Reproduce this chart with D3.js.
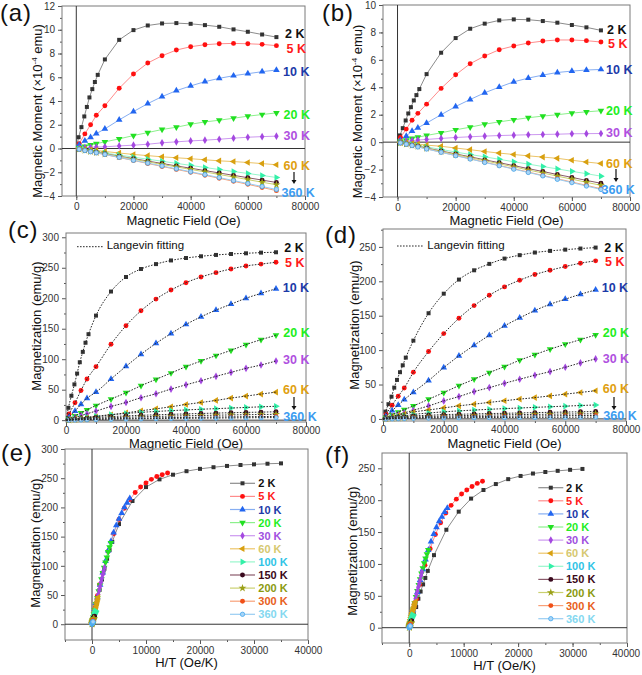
<!DOCTYPE html>
<html><head><meta charset="utf-8">
<script src="https://cdn.jsdelivr.net/npm/d3@7"></script>
<style>
body{margin:0;background:#fff}
svg{display:block}
text{font-family:Arial,"Liberation Sans",sans-serif}
</style>
</head><body>
<svg id="chart" width="642" height="675"></svg>
<script>
// ---------------- DATA ----------------
const tempLabels = ["2 K","5 K","10 K","20 K","30 K","60 K","100 K","150 K","200 K","300 K","360 K"];
// temperatures used for the H/T scaling of each sample
const tempScaleE = [2,5,10,20,30,60,100,150,200,300,360];
const tempScaleF = [2.2,5.2,10,20,30,60,100,150,200,300,360];
// 2 K was measured on a finer low-field grid
const fieldFine = [800,1800,2800,3700,4600,5600,6500,7500,10000,15000,20000,25000,30000,35000,40000,45000,50000,55000,60000,65000,70000];
const fieldStd  = [1000,3000,5000,7000,10000,15000,20000,25000,30000,35000,40000,45000,50000,55000,60000,65000,70000];

// (a) magnetic moment, 1e-4 emu
const momentA = [
 [0.95,1.8,2.7,3.5,4.3,5.0,5.6,6.2,7.5,9.15,9.97,10.36,10.53,10.56,10.5,10.39,10.25,10.03,9.83,9.6,9.38],
 [0.4,1.23,2.0,2.8,3.6,5.07,6.27,7.2,7.81,8.29,8.57,8.74,8.82,8.85,8.82,8.77,8.66],
 [0.3,0.65,0.95,1.25,1.65,2.41,3.11,3.78,4.37,4.87,5.27,5.63,5.91,6.13,6.3,6.47,6.61],
 [0.06,0.18,0.3,0.41,0.56,0.81,1.09,1.34,1.6,1.79,2.04,2.24,2.38,2.55,2.72,2.86,3.0],
 [0.03,0.07,0.1,0.12,0.14,0.22,0.28,0.36,0.48,0.56,0.64,0.7,0.78,0.87,0.95,1.0,1.04],
 [-0.02,-0.07,-0.11,-0.16,-0.25,-0.38,-0.5,-0.6,-0.7,-0.78,-0.86,-0.95,-1.04,-1.1,-1.18,-1.27,-1.37],
 [-0.04,-0.12,-0.2,-0.27,-0.38,-0.55,-0.73,-0.9,-1.07,-1.25,-1.42,-1.6,-1.77,-1.94,-2.1,-2.27,-2.44],
 [-0.05,-0.15,-0.24,-0.32,-0.44,-0.65,-0.85,-1.06,-1.26,-1.47,-1.66,-1.86,-2.06,-2.26,-2.46,-2.66,-2.86],
 [-0.05,-0.16,-0.25,-0.34,-0.46,-0.68,-0.9,-1.12,-1.34,-1.55,-1.76,-1.97,-2.19,-2.4,-2.62,-2.84,-3.05],
 [-0.06,-0.17,-0.27,-0.37,-0.51,-0.76,-1.01,-1.26,-1.51,-1.76,-2.0,-2.25,-2.51,-2.76,-3.02,-3.28,-3.55],
 [-0.06,-0.17,-0.27,-0.36,-0.5,-0.74,-0.99,-1.23,-1.47,-1.71,-1.96,-2.2,-2.45,-2.7,-2.95,-3.2,-3.45]
];
// (b) magnetic moment, 1e-4 emu
const momentB = [
 [0.49,1.02,1.58,2.09,2.55,3.04,3.43,3.87,4.96,6.52,7.59,8.27,8.64,8.88,8.95,8.93,8.83,8.71,8.54,8.37,8.15],
 [0.35,0.95,1.6,2.1,2.77,3.92,4.91,5.72,6.28,6.74,7.01,7.23,7.37,7.45,7.45,7.4,7.3],
 [0.15,0.45,0.8,1.05,1.39,2.0,2.6,3.11,3.6,4.01,4.4,4.67,4.89,5.08,5.18,5.26,5.3],
 [0.05,0.15,0.27,0.36,0.49,0.68,0.9,1.09,1.31,1.48,1.63,1.78,1.9,2.0,2.12,2.21,2.29],
 [0.02,0.07,0.11,0.15,0.2,0.27,0.34,0.39,0.44,0.48,0.51,0.54,0.56,0.58,0.61,0.62,0.63],
 [-0.02,-0.06,-0.1,-0.14,-0.22,-0.3,-0.43,-0.55,-0.68,-0.8,-0.9,-1.0,-1.09,-1.18,-1.32,-1.45,-1.56],
 [-0.04,-0.11,-0.18,-0.25,-0.35,-0.53,-0.72,-0.9,-1.07,-1.25,-1.43,-1.6,-1.78,-1.95,-2.13,-2.3,-2.48],
 [-0.04,-0.13,-0.22,-0.3,-0.43,-0.64,-0.86,-1.07,-1.29,-1.5,-1.71,-1.93,-2.14,-2.36,-2.57,-2.79,-3.0],
 [-0.05,-0.14,-0.23,-0.31,-0.45,-0.68,-0.9,-1.13,-1.35,-1.58,-1.8,-2.03,-2.25,-2.48,-2.7,-2.93,-3.15],
 [-0.05,-0.15,-0.24,-0.34,-0.49,-0.73,-0.97,-1.21,-1.46,-1.7,-1.94,-2.18,-2.43,-2.67,-2.91,-3.15,-3.4],
 [-0.05,-0.15,-0.25,-0.35,-0.5,-0.74,-0.99,-1.23,-1.48,-1.72,-1.97,-2.21,-2.46,-2.71,-2.95,-3.2,-3.45]
];
// (c) magnetization, emu/g
const magnetC = [
 [20.3,40,58.7,76.5,95,112,127,141,171.5,211,234.8,248,256,262,266,268.8,271,272.6,273.7,274.8,275.4],
 [10,28.5,48.8,67.5,87.8,124.5,155,179.4,198.6,213.4,225.5,234.8,242,248,253,256,259],
 [5,15,26,36,46,67.5,88.3,108,126,142,157,169.5,180.5,190.3,200,208,215.6],
 [2.5,7,12,17,24,34.6,45,56.5,67,77.3,87.8,97,106,114.6,124,132,139.3],
 [1.5,4.5,7.5,10.5,15,22.5,29,36.8,43.3,51,58,64.7,71.9,78.4,85,90.5,97],
 [0.6,1.7,2.8,3.9,5.5,8.8,12,15.4,18.6,22,25.8,29,32.4,36.2,39.5,42.8,46],
 [0.8,2.2,3.5,4.8,6.5,9,11,12.8,14.3,15.6,16.8,17.9,18.9,19.9,20.9,21.9,22.8],
 [0.5,1.4,2.3,3.1,4.3,5.8,7,8,8.8,9.6,10.3,11,11.6,12.2,12.7,13.2,13.7],
 [0.3,1,1.6,2.2,3,4,4.8,5.5,6.1,6.7,7.2,7.7,8.2,8.6,9,9.3,9.6],
 [0.2,0.6,1,1.4,1.9,2.5,3,3.4,3.8,4.2,4.5,4.8,5.1,5.4,5.7,5.9,6.1],
 [0.1,0.4,0.6,0.9,1.2,1.6,2,2.3,2.6,2.9,3.1,3.3,3.5,3.7,3.9,4.1,4.2]
];
// (d) magnetization, emu/g
const magnetD = [
 [10.6,21.4,32.4,45.5,56.7,67.9,78,89.1,113.8,153.6,182,202.5,216,225.3,233,238,241.8,244.2,246,247.6,249],
 [7,20,33,45,67.8,97.9,124,146.3,164.7,179.7,191.9,201.6,209.8,216,221.4,226.3,229.7],
 [4,12,20,28,38.8,55.7,74.6,91.6,107,121.6,135.2,146.8,157.5,166.7,174,181.2,187.5],
 [2,6,10,13.5,18.9,28.6,38.3,48.4,57.7,67.3,76.1,85.3,93.5,101.3,108.5,115.3,122],
 [1.3,3.8,6.3,8.8,12.6,18.9,26.2,32.5,39.7,45.5,51.8,57.7,63.5,68.8,75.1,81.4,87.2],
 [1,3,5,7,10,13,16,19,21.5,24,26.5,28.8,31,33.5,36,38.5,41],
 [0.7,2,3.2,4.4,6.5,8.6,10.3,11.7,12.9,14,15,15.9,16.8,17.7,18.6,19.5,20.3],
 [0.4,1.2,2,2.8,4.4,5.3,6.3,6.8,7.3,7.8,8.2,8.7,9.2,9.6,10,10.4,10.7],
 [0.3,0.8,1.4,1.9,2.8,3.6,4.2,4.7,5.2,5.6,6,6.3,6.6,6.9,7.1,7.3,7.5],
 [0.2,0.5,0.9,1.2,1.7,2.2,2.7,3,3.3,3.6,3.9,4.1,4.3,4.5,4.7,4.9,5],
 [0.1,0.3,0.5,0.7,1,1.3,1.5,1.7,1.9,2,2.1,2.2,2.3,2.4,2.5,2.6,2.7]
];
// axis ticks
const ticksA_y = [-4,-2,0,2,4,6,8,10,12];
const ticksB_y = [-4,-2,0,2,4,6,8,10];
const ticksC_y = [0,50,100,150,200,250,300];
const ticksD_y = [0,50,100,150,200,250];
const ticksField = [0,20000,40000,60000,80000];
const ticksHT = [0,10000,20000,30000,40000];

// ---------------- STYLES ----------------
const markerColor = ["#333333","#ff1010","#2266f0","#22e022","#a448e0","#d8a010","#33f0a8","#3a0a1e","#9aa018","#f05018","#44a8f0"];
const lineColor   = ["#8c8c8c","#ff8c8c","#86aef2","#8cf08c","#cc98f0","#ecc468","#98f6cc","#8a5a6a","#cad070","#f8a078","#98ccf2"];
const legendColor = ["#111111","#ff1a1a","#1c3aa8","#22ee22","#a050e0","#d6c870","#30c4e6","#3a0818","#8a9a10","#e86020","#84d8f0"];
const sideColor   = {"2 K":"#111111","5 K":"#ff1a1a","10 K":"#1c3aa8","20 K":"#22ee22","30 K":"#b050e0","60 K":"#e0a010","360 K":"#3c9cf0"};
const shapeOf = ["square","circle","up","down","diamond","left","right","circle","star","circle","ring"];

const svg = d3.select("#chart");
const SVG_W = 642;
const fieldOf = i => i === 0 ? fieldFine : fieldStd;

function symbolPath(shape){
  const size = {square:16, circle:19, ring:15, up:19, down:19, left:19, right:19, diamond:17, star:20}[shape];
  const type = {square:d3.symbolSquare, circle:d3.symbolCircle, ring:d3.symbolCircle, up:d3.symbolTriangle,
    down:d3.symbolTriangle, left:d3.symbolTriangle, right:d3.symbolTriangle, diamond:d3.symbolDiamond, star:d3.symbolStar}[shape];
  return d3.symbol().type(type).size(size)();
}
const rotOf = {down:180, left:-90, right:90};

function drawMarkers(g, pts, i){
  const sh = shapeOf[i];
  g.selectAll(null).data(pts).join("path")
    .attr("d", symbolPath(sh))
    .attr("transform", d => `translate(${d[0]},${d[1]}) rotate(${rotOf[sh]||0})`)
    .attr("fill", sh === "ring" ? "#a8d4f6" : markerColor[i])
    .attr("stroke", sh === "ring" ? markerColor[i] : "none")
    .attr("stroke-width", 0.8);
}

function panel(p){
  const g = svg.append("g");
  const x = d3.scaleLinear().domain(p.xdom).range([p.x0, p.x1]);
  const y = d3.scaleLinear().domain(p.ydom).range([p.y1, p.y0]);
  const minorX = d3.range(p.xminor[0], p.xdom[1] + 1, p.xminor[1]);
  const minorY = d3.range(p.yminor[0], p.ydom[1] + 0.001, p.yminor[1]);
  g.append("g").attr("transform",`translate(0,${p.y1})`)
    .call(d3.axisBottom(x).tickValues(minorX).tickSize(2).tickFormat(""))
    .call(a => a.select(".domain").remove()).selectAll("line").attr("stroke","#555");
  g.append("g").attr("transform",`translate(${p.x0},0)`)
    .call(d3.axisLeft(y).tickValues(minorY).tickSize(2).tickFormat(""))
    .call(a => a.select(".domain").remove()).selectAll("line").attr("stroke","#555");
  const xa = g.append("g").attr("transform",`translate(0,${p.y1})`)
    .call(d3.axisBottom(x).tickValues(p.xticks).tickSize(4).tickPadding(p.xpad).tickFormat(d3.format("d")));
  const ya = g.append("g").attr("transform",`translate(${p.x0},0)`)
    .call(d3.axisLeft(y).tickValues(p.yticks).tickSize(4).tickPadding(3).tickFormat(d3.format("d")));
  [xa, ya].forEach(a => {
    a.select(".domain").remove();
    a.selectAll("line").attr("stroke","#555");
    a.selectAll("text").attr("font-size","10px").attr("fill","#333").attr("font-family","Arial, 'Liberation Sans', sans-serif");
  });
  // keep tick labels inside the page
  xa.selectAll("text").each(function(){
    const b = this.getBoundingClientRect();
    if (b.right > SVG_W - 1) d3.select(this).attr("dx", -(b.right - SVG_W + 1.5));
  });
  g.append("rect").attr("x",p.x0).attr("y",p.y0).attr("width",p.x1-p.x0).attr("height",p.y1-p.y0)
    .attr("fill","none").attr("stroke","#7a7a7a").attr("stroke-width",1);
  if (p.ydom[0] < 0) g.append("line").attr("x1",p.x0).attr("x2",p.x1).attr("y1",y(0)).attr("y2",y(0)).attr("stroke","#333").attr("stroke-width",1);
  if (p.xdom[0] < 0) g.append("line").attr("x1",x(0)).attr("x2",x(0)).attr("y1",p.y0).attr("y2",p.y1).attr("stroke","#333").attr("stroke-width",1);
  g.append("text").attr("x",(p.x0+p.x1)/2).attr("y",p.xtitleY).attr("text-anchor","middle")
    .attr("font-size","13px").attr("fill","#111").text(p.xtitle);
  const yt = g.append("text").attr("transform",`translate(${p.ytitleX},${p.ytitleCY}) rotate(-90)`)
    .attr("text-anchor","middle").attr("font-size","13px").attr("fill","#111");
  if (p.ytitle === "moment") {
    yt.append("tspan").text("Magnetic Moment (\u00d710");
    yt.append("tspan").attr("dy","-5").attr("font-size","8px").text("-4");
    yt.append("tspan").attr("dy","5").text(" emu)");
  } else yt.text(p.ytitle);
  g.append("text").attr("x",p.letter[0]).attr("y",p.letter[1]).attr("font-size","24px").attr("letter-spacing","0.8px")
    .attr("fill","#111").text(p.letter[2]);
  return {g, x, y};
}

function sideLabels(g, list, arrow){
  list.forEach(([t, lx, ly]) => {
    g.append("text").attr("x",lx).attr("y",ly).attr("font-size","12.5px").attr("font-weight","bold")
      .attr("fill", sideColor[t]).text(t);
  });
  g.append("line").attr("x1",arrow[0]).attr("x2",arrow[0]).attr("y1",arrow[1]).attr("y2",arrow[2]-3)
    .attr("stroke","#111").attr("stroke-width",1.2);
  g.append("path").attr("d",`M${arrow[0]-2.5},${arrow[2]-4} L${arrow[0]+2.5},${arrow[2]-4} L${arrow[0]},${arrow[2]} Z`).attr("fill","#111");
}

// -------- (a) & (b): raw moment --------
function rawPanel(p, data, labels, arrow){
  const {g, x, y} = panel(p);
  const plot = g.append("g");
  data.forEach((vals, i) => {
    const pts = vals.map((v,k) => [x(fieldOf(i)[k]), y(v)]);
    plot.append("path").attr("d", d3.line()([[x(0),y(0)], ...pts])).attr("fill","none")
      .attr("stroke", lineColor[i]).attr("stroke-width",1);
  });
  data.forEach((vals, i) => drawMarkers(plot, vals.map((v,k) => [x(fieldOf(i)[k]), y(v)]), i));
  sideLabels(g, labels, arrow);
}

rawPanel({x0:62,x1:305,y0:6,y1:196,xdom:[-5000,80000],ydom:[-4,12],xticks:ticksField,yticks:ticksA_y,
  xminor:[0,10000],yminor:[-4,1],xpad:3,xtitle:"Magnetic Field (Oe)",xtitleY:225,ytitle:"moment",ytitleX:41.5,ytitleCY:111,
  letter:[0,21,"(a)"]}, momentA,
  [["2 K",285,38],["5 K",286.5,53],["10 K",283,75.5],["20 K",283.5,118.5],["30 K",283.5,140],["60 K",283.5,170],["360 K",281.5,196.5]],
  [294,172,184]);

rawPanel({x0:383,x1:630,y0:5,y1:197,xdom:[-5000,80000],ydom:[-4,10],xticks:ticksField,yticks:ticksB_y,
  xminor:[0,10000],yminor:[-4,1],xpad:3,xtitle:"Magnetic Field (Oe)",xtitleY:225,ytitle:"moment",ytitleX:362,ytitleCY:111.5,
  letter:[322,21,"(b)"]}, momentB,
  [["2 K",607,34],["5 K",608,48.3],["10 K",606,74],["20 K",606,115],["30 K",606,136.7],["60 K",606,168.3],["360 K",601.5,194]],
  [616,169,182]);

// -------- (c) & (d): magnetization with Langevin fits --------
function fitPanel(p, data, labels, arrow, legend){
  const {g, x, y} = panel(p);
  const plot = g.append("g");
  data.forEach((vals, i) => drawMarkers(plot, vals.map((v,k) => [x(fieldOf(i)[k]), y(v)]), i));
  const curve = d3.line().curve(d3.curveMonotoneX);
  data.forEach((vals, i) => {
    const pts = [[x(0),y(0)], ...vals.map((v,k) => [x(fieldOf(i)[k]), y(v)])];
    plot.append("path").attr("d", curve(pts)).attr("fill","none").attr("stroke","#2a2a2a")
      .attr("stroke-width",1).attr("stroke-dasharray","1.6,1.4");
  });
  g.append("line").attr("x1",legend[0]).attr("x2",legend[1]).attr("y1",legend[2]).attr("y2",legend[2])
    .attr("stroke","#2a2a2a").attr("stroke-width",1).attr("stroke-dasharray","1.6,1.4");
  g.append("text").attr("x",legend[3]).attr("y",legend[4]).attr("font-size","11.5px").attr("fill","#111").text("Langevin fitting");
  sideLabels(g, labels, arrow);
}

fitPanel({x0:66,x1:306,y0:233,y1:422,xdom:[0,80000],ydom:[-3,307],xticks:ticksField,yticks:ticksC_y,
  xminor:[10000,20000],yminor:[25,50],xpad:1,xtitle:"Magnetic Field (Oe)",xtitleY:448,ytitle:"Magnetization (emu/g)",ytitleX:41,ytitleCY:326,
  letter:[8,238,"(c)"]}, magnetC,
  [["2 K",284.3,252.3],["5 K",285,266.7],["10 K",282.7,292.3],["20 K",283.3,336.7],["30 K",283,364],["60 K",283,394.3],["360 K",283.3,421]],
  [294,397,410], [77,103,246.7,106.7,249]);

fitPanel({x0:383,x1:626,y0:229,y1:421,xdom:[0,80000],ydom:[-3,276],xticks:ticksField,yticks:ticksD_y,
  xminor:[10000,20000],yminor:[25,50],xpad:1,xtitle:"Magnetic Field (Oe)",xtitleY:448,ytitle:"Magnetization (emu/g)",ytitleX:359,ytitleCY:325,
  letter:[325,243,"(d)"]}, magnetD,
  [["2 K",604.3,251.7],["5 K",605,265.7],["10 K",601.7,291.7],["20 K",602.7,336.7],["30 K",602.7,362.7],["60 K",602.7,393.3],["360 K",603.3,420]],
  [614,397,410], [397,424,246,427.3,248.5]);

// -------- (e) & (f): M vs H/T --------
function scalePanel(p, data, temps, legendPos){
  const {g, x, y} = panel(p);
  const plot = g.append("g");
  data.forEach((vals, i) => {
    const pts = vals.map((v,k) => [x(fieldOf(i)[k] / temps[i]), y(v)]);
    plot.append("path").attr("d", d3.line()([[x(0),y(0)], ...pts])).attr("fill","none")
      .attr("stroke", lineColor[i]).attr("stroke-width",1);
    drawMarkers(plot, pts, i);
  });
  const [lx0, lx1, tx, ly0, dy] = legendPos;
  tempLabels.forEach((t, i) => {
    const yy = ly0 + i * dy;
    g.append("line").attr("x1",lx0).attr("x2",lx1).attr("y1",yy).attr("y2",yy).attr("stroke",lineColor[i]).attr("stroke-width",1.2);
    drawMarkers(g, [[(lx0+lx1)/2, yy]], i);
    g.append("text").attr("x",tx).attr("y",yy+4).attr("font-size","11px").attr("font-weight","bold")
      .attr("fill",legendColor[i]).text(t);
  });
}

scalePanel({x0:65,x1:308,y0:449,y1:640,xdom:[-5000,40000],ydom:[-27,300],xticks:ticksHT,yticks:ticksC_y,
  xminor:[-5000,5000],yminor:[25,50],xpad:3,xtitle:"H/T (Oe/K)",xtitleY:667,ytitle:"Magnetization (emu/g)",ytitleX:39.5,ytitleCY:543,
  letter:[1,461,"(e)"]}, magnetC, tempScaleE, [230,255,258.3,483.3,13.1]);

scalePanel({x0:382,x1:627,y0:453,y1:643,xdom:[-5000,40000],ydom:[-24,274],xticks:ticksHT,yticks:ticksD_y,
  xminor:[-5000,5000],yminor:[25,50],xpad:3,xtitle:"H/T (Oe/K)",xtitleY:670,ytitle:"Magnetization (emu/g)",ytitleX:357,ytitleCY:551,
  letter:[325,463,"(f)"]}, magnetD, tempScaleF, [538.3,563.3,566,487.7,13.1]);
</script>
</body></html>
